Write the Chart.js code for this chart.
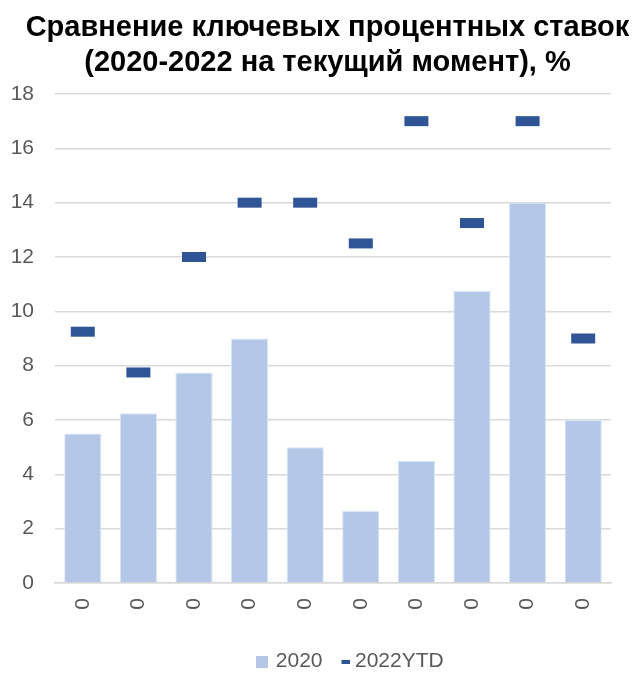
<!DOCTYPE html>
<html>
<head>
<meta charset="utf-8">
<script src="https://cdn.jsdelivr.net/npm/chart.js@4"></script>
<style>
  html, body { margin: 0; padding: 0; background: #fff; }
  #grafico { position: relative; width: 641px; height: 674px; }
  #titulo {
    position: absolute; top: 9px; left: 14px; width: 627px;
    text-align: center; color: #000;
    font: bold 29px/35px 'Liberation Sans', Arial, sans-serif;
  }
</style>
</head>
<body>
<div id="grafico">
  <div id="titulo">Сравнение ключевых процентных ставок<br>(2020-2022 на текущий момент), %</div>
  <canvas></canvas>
</div>
<script>
const categorias = ['0', '0', '0', '0', '0', '0', '0', '0', '0', '0'];
const taxas2020 = [5.5, 6.25, 7.75, 9, 5, 2.65, 4.5, 10.75, 14, 6];
const taxas2022 = [9.25, 7.75, 12, 14, 14, 12.5, 17, 13.25, 17, 9];
const ticksY = [0, 2, 4, 6, 8, 10, 12, 14, 16, 18];

const grafico = document.querySelector('#grafico canvas');
const fonte = "'Liberation Sans', Arial, sans-serif";
const corBarra = '#B4C7E7';
const corMarca = '#2F5597';
const corTexto = '#595959';

// marcadores pequenos para a legenda (o traço fica encostado à direita)
function criarMarca(largura, altura, cor, inicio) {
    const c = document.createElement('canvas');
    c.width = largura;
    c.height = altura;
    const ctx = c.getContext('2d');
    ctx.fillStyle = cor;
    ctx.fillRect(inicio, 0, largura - inicio, altura);
    return c;
}
const marcaBarra = criarMarca(12, 12, corBarra, 0);
const marcaTraco = criarMarca(16, 4, corMarca, 8);

// desloca a legenda um pouco para a direita
const deslocarLegenda = {
    id: 'deslocarLegenda',
    afterLayout(chart) {
        if (chart.legend) {
            chart.legend.left += 46;
            chart.legend.right += 46;
        }
    }
};

const chartInstance = new Chart(grafico, {
    type: 'bar',
    data: {
        labels: categorias,
        datasets: [
            {
                type: 'line',
                label: '2022YTD',
                data: taxas2022,
                showLine: false,
                pointStyle: 'line',
                pointRadius: 12,
                pointHoverRadius: 12,
                pointBorderWidth: 10,
                pointHoverBorderWidth: 10,
                borderColor: corMarca,
                backgroundColor: corMarca,
                order: 0
            },
            {
                label: '2020',
                data: taxas2020,
                backgroundColor: corBarra,
                borderColor: '#DCE6F5',
                borderWidth: 1,
                categoryPercentage: 0.67,
                barPercentage: 1,
                order: 1
            }
        ]
    },
    plugins: [deslocarLegenda],
    options: {
        responsive: true,
        maintainAspectRatio: false,
        animation: false,
        layout: { padding: { left: 0, right: 30, top: 94, bottom: -8 } },
        plugins: {
            title: { display: false },
            legend: {
                position: 'bottom',
                reverse: true,
                labels: {
                    usePointStyle: true,
                    color: corTexto,
                    font: { family: fonte, size: 21, lineHeight: 1 },
                    boxWidth: 6,
                    boxHeight: 12,
                    padding: 16,
                    generateLabels: (chart) => {
                        const itens = Chart.defaults.plugins.legend.labels.generateLabels(chart);
                        itens.forEach(item => {
                            item.pointStyle = item.datasetIndex === 0 ? marcaTraco : marcaBarra;
                        });
                        return itens;
                    }
                }
            },
            tooltip: { enabled: false }
        },
        scales: {
            x: {
                grid: { display: false, drawTicks: false },
                border: { color: '#D9D9D9', width: 1.5 },
                afterFit: (eixo) => { eixo.height = 52; },
                ticks: {
                    color: corTexto,
                    font: { family: fonte, size: 21 },
                    minRotation: 90,
                    maxRotation: 90,
                    padding: 15
                }
            },
            y: {
                min: 0,
                max: 18,
                afterBuildTicks: (eixo) => { eixo.ticks = ticksY.map(v => ({ value: v })); },
                afterFit: (eixo) => { eixo.width = 55; },
                grid: { color: '#D9D9D9', lineWidth: 1.5, drawTicks: false },
                border: { display: false },
                ticks: {
                    color: corTexto,
                    font: { family: fonte, size: 21 },
                    padding: 21
                }
            }
        }
    }
});
</script>
</body>
</html>
